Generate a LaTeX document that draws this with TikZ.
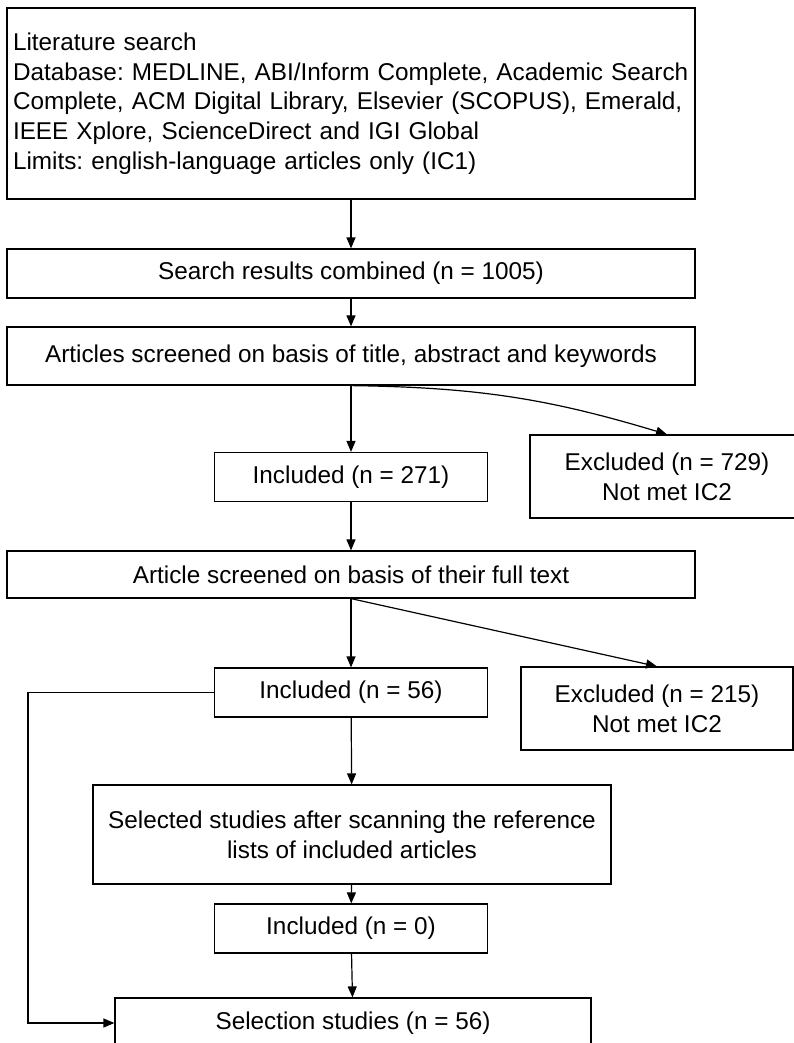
\documentclass[tikz,border=0pt]{standalone}
\usepackage{fontspec}
\setmainfont{Liberation Sans}
\usetikzlibrary{arrows.meta}
\frenchspacing
\begin{document}
\begin{tikzpicture}[x=1pt,y=1pt]
\fontsize{24.3}{29.7}\selectfont
\useasboundingbox (0,0) rectangle (794,-1043);
\begin{scope}[->,>={Triangle[length=11pt,width=9pt]},line width=1.2pt,
              block1/.style={rectangle,draw,align=center,inner sep=0pt},
              block2/.style={block1,minimum width=273pt,minimum height=49pt}]
    \node [block1,minimum width=688pt,minimum height=191pt,text width=676pt,align=left] (search) at (351,-103.5)
      {Literature search\\
       Database: MEDLINE, ABI/Inform Complete, Academic Search\\
       Complete, ACM Digital Library, Elsevier (SCOPUS), Emerald,\\
       IEEE Xplore, ScienceDirect and IGI Global\\
       Limits: english-language articles only (IC1)};
    \node [block1,minimum width=688pt,minimum height=49pt] (combined) at (351,-273.5) {Search results combined (n = 1005)};
    \node [block1,minimum width=688pt,minimum height=58pt] (screen1) at (351,-356) {Articles screened on basis of title, abstract and keywords};
    \node [block2] (incl1) at (351,-477) {Included (n = 271)};
    \node [block1,minimum width=274pt,minimum height=83pt] (excl1) at (667,-476.5) {Excluded (n = 729)\\ Not met IC2};
    \node [block1,minimum width=688pt,minimum height=47pt] (screen2) at (351,-574.5) {Article screened on basis of their full text};
    \node [block2] (incl2) at (351,-692.5) {Included (n = 56)};
    \node [block1,minimum width=272pt,minimum height=83pt] (excl2) at (657,-708.5) {Excluded (n = 215)\\ Not met IC2};
    \node [block1,minimum width=518pt,minimum height=99pt] (refs) at (352,-834.5)
      {Selected studies after scanning the reference\\ lists of included articles};
    \node [block2] (incl3) at (351,-928.5) {Included (n = 0)};
    \node [block1,minimum width=476pt,minimum height=50pt] (final) at (353,-1023) {Selection studies (n = 56)};
    \coordinate (corner) at (28,-692.5);
    \path (search) edge (combined);
    \path (combined) edge (screen1);
    \path (screen1) edge (incl1);
    \path (screen1.south) edge [bend left=8] (excl1.north);
    \path (incl1) edge (screen2);
    \path (screen2) edge (incl2);
    \path (screen2.south) edge (excl2.north);
    \path (incl2) edge (refs);
    \path (refs) edge (incl3);
    \path (incl3) edge (final);
    \draw (incl2.west) -- (corner) |- (final.west);
\end{scope}
\end{tikzpicture}
\end{document}
